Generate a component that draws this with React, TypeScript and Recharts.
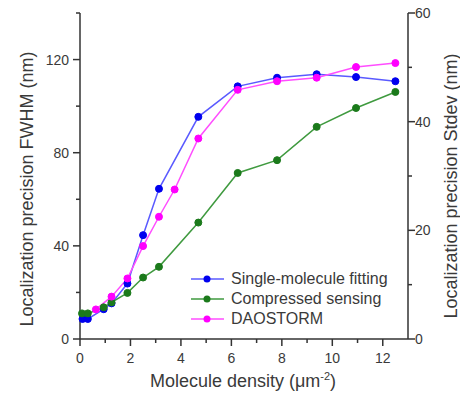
import { LineChart, Line, XAxis, YAxis, Legend } from "recharts";

// density in um^-2, localization precision FWHM in nm
const smfDensity = [0.1, 0.31, 0.94, 1.25, 1.88, 2.5, 3.13, 4.69, 6.25, 7.81, 9.38, 10.94, 12.5];
const smfFwhm = [8.6, 8.6, 12.8, 15.3, 23.8, 44.6, 64.5, 95.4, 108.5, 112.2, 113.7, 112.5, 110.7];

const csDensity = [0.08, 0.31, 0.94, 1.25, 1.88, 2.5, 3.13, 4.69, 6.25, 7.81, 9.38, 10.94, 12.5];
const csFwhm = [11, 11, 13.6, 15.7, 19.8, 26.4, 31, 50, 71.3, 76.8, 91.1, 99.2, 106.1];

const daoDensity = [0.63, 1.25, 1.88, 2.5, 3.13, 3.75, 4.69, 6.25, 7.81, 9.38, 10.94, 12.5];
const daoFwhm = [12.7, 18.2, 26, 39.9, 52.5, 64.2, 86.1, 107, 110.7, 112.2, 116.8, 118.5];

const xTicks = [0, 1, 2, 3, 4, 5, 6, 7, 8, 9, 10, 11, 12];
const leftTicks = [0, 20, 40, 60, 80, 100, 120, 140];
const rightTicks = [0, 10, 20, 30, 40, 50, 60];

const seriesNames = ["Single-molecule fitting", "Compressed sensing", "DAOSTORM"];

const toPoints = (xs: number[], ys: number[]) => xs.map((x, i) => ({ x, y: ys[i] }));

const SERIES = [
  { name: seriesNames[0], data: toPoints(smfDensity, smfFwhm), line: "#5a5aff", dot: "#0000ee" },
  { name: seriesNames[1], data: toPoints(csDensity, csFwhm), line: "#3f9a3f", dot: "#1b7a1b" },
  { name: seriesNames[2], data: toPoints(daoDensity, daoFwhm), line: "#ff4dff", dot: "#ff00ff" },
];

const FONT = '"Liberation Sans", Arial, sans-serif';
const AXIS = "#333";
const TEXT = "#3a3a3a";

function LeftTick(props: any) {
  const { x, y, payload } = props;
  const major = payload.value % 40 === 0 && payload.value !== 140;
  return (
    <g>
      <line x1={x} x2={x - (major ? 7 : 4)} y1={y} y2={y} stroke={AXIS} strokeWidth={1.5} />
      {major && (
        <text x={x - 11} y={y} dy="0.36em" textAnchor="end" fontSize={14} fill={TEXT} fontFamily={FONT}>
          {payload.value}
        </text>
      )}
    </g>
  );
}

function RightTick(props: any) {
  const { x, y, payload } = props;
  const major = payload.value % 20 === 0;
  return (
    <g>
      <line x1={x} x2={x + (major ? 7 : 4)} y1={y} y2={y} stroke={AXIS} strokeWidth={1.5} />
      {major && (
        <text x={x + 7} y={y} dy="0.36em" textAnchor="start" fontSize={14} fill={TEXT} fontFamily={FONT}>
          {payload.value}
        </text>
      )}
    </g>
  );
}

function BottomTick(props: any) {
  const { x, y, payload } = props;
  const major = payload.value % 2 === 0;
  return (
    <g>
      <line x1={x} x2={x} y1={y} y2={y + (major ? 7 : 4)} stroke={AXIS} strokeWidth={1.5} />
      {major && (
        <text x={x} y={y + 24} textAnchor="middle" fontSize={14} fill={TEXT} fontFamily={FONT}>
          {payload.value}
        </text>
      )}
    </g>
  );
}

function LegendBox() {
  return (
    <div style={{ fontFamily: FONT, fontSize: 16, color: TEXT }}>
      {SERIES.map((s) => (
        <div key={s.name} style={{ display: "flex", alignItems: "center", height: 20 }}>
          <svg width={40} height={20}>
            <line x1={1} x2={34} y1={10} y2={10} stroke={s.line} strokeWidth={1.5} />
            <circle cx={17} cy={10} r={3.5} fill={s.dot} />
          </svg>
          <span style={{ marginLeft: 1 }}>{s.name}</span>
        </div>
      ))}
    </div>
  );
}

export default function App() {
  return (
    <div style={{ position: "absolute", left: 0, top: 0, background: "#fff" }}>
      <LineChart width={460} height={394} margin={{ top: 13, right: 0, bottom: 0, left: 0 }}>
        <XAxis
          type="number"
          dataKey="x"
          domain={[0, 13]}
          ticks={xTicks}
          allowDuplicatedCategory={false}
          height={55}
          stroke={AXIS}
          strokeWidth={1.5}
          tickLine={false}
          tickSize={0}
          tickMargin={0}
          tick={<BottomTick />}
          interval={0}
          label={{
            content: () => (
              <text x={243} y={387} textAnchor="middle" fontSize={18} fill={TEXT} fontFamily={FONT}>
                Molecule density (μm
                <tspan dy={-7} fontSize={11}>-2</tspan>
                <tspan dy={7}>)</tspan>
              </text>
            ),
          }}
        />
        <YAxis
          yAxisId="left"
          type="number"
          domain={[0, 140]}
          ticks={leftTicks}
          width={80}
          stroke={AXIS}
          strokeWidth={1.5}
          tickLine={false}
          tickSize={0}
          tickMargin={0}
          tick={<LeftTick />}
          interval={0}
          label={{
            content: () => (
              <text
                x={27}
                y={189}
                transform="rotate(-90 27 189)"
                textAnchor="middle"
                dy="0.35em"
                fontSize={18}
                fill={TEXT}
                fontFamily={FONT}
              >
                Localization precision FWHM (nm)
              </text>
            ),
          }}
        />
        <YAxis
          yAxisId="right"
          orientation="right"
          type="number"
          domain={[0, 60]}
          allowDataOverflow
          ticks={rightTicks}
          width={52}
          stroke={AXIS}
          strokeWidth={1.5}
          tickLine={false}
          tickSize={0}
          tickMargin={0}
          tick={<RightTick />}
          interval={0}
          label={{
            content: () => (
              <text
                x={451}
                y={186}
                transform="rotate(-90 451 186)"
                textAnchor="middle"
                dy="0.35em"
                fontSize={18}
                fill={TEXT}
                fontFamily={FONT}
              >
                Localization precision Stdev (nm)
              </text>
            ),
          }}
        />
        <Legend
          verticalAlign="middle"
          align="center"
          wrapperStyle={{ left: 190, top: 269, width: 230 }}
          content={() => <LegendBox />}
        />
        {SERIES.map((s) => (
          <Line
            key={s.name}
            yAxisId="left"
            data={s.data}
            dataKey="y"
            name={s.name}
            type="linear"
            stroke={s.line}
            strokeWidth={1.5}
            dot={{ r: 3.5, fill: s.dot, stroke: s.dot, strokeWidth: 1 }}
            activeDot={false}
            isAnimationActive={false}
          />
        ))}
      </LineChart>
    </div>
  );
}
